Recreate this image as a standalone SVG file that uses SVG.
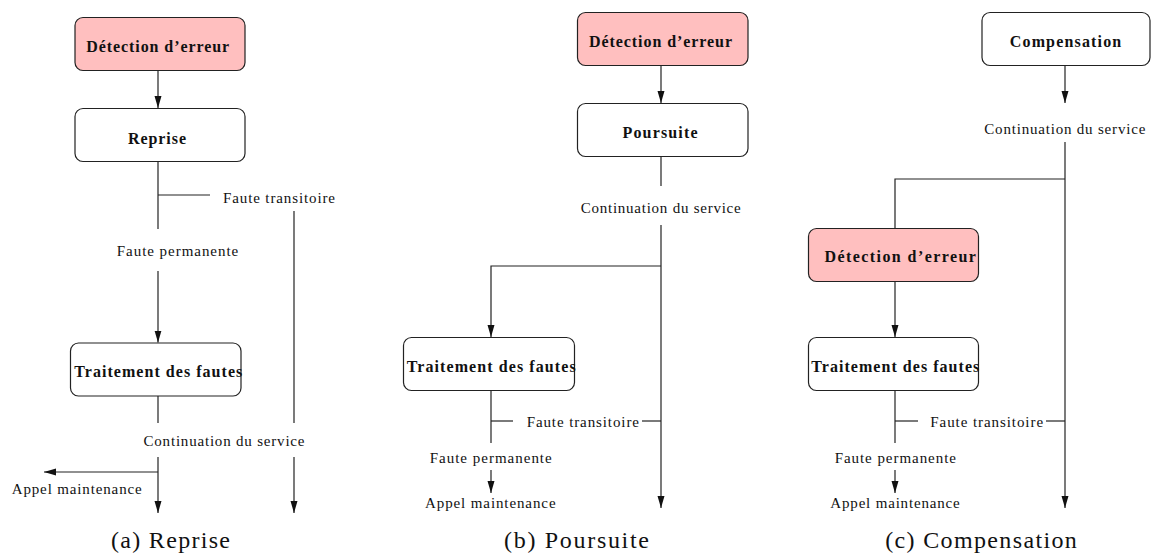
<svg xmlns="http://www.w3.org/2000/svg" width="1151" height="555" viewBox="0 0 1151 555">
  <style>
    .box { fill: #ffffff; stroke: #222; stroke-width: 1.2; }
    .err { fill: #ffbfbf; }
    .title { font-family: "Liberation Serif", "DejaVu Serif", serif; font-weight: bold; font-size: 16px; fill: #111; }
    .lbl { font-family: "Liberation Serif", "DejaVu Serif", serif; font-size: 15px; fill: #111; }
    .cap { font-family: "Liberation Serif", "DejaVu Serif", serif; font-size: 24px; fill: #111; }
    .ln { fill: none; stroke: #222; stroke-width: 1.2; }
    .arr { marker-end: url(#head); }
  </style>
  <defs>
    <marker id="head" markerUnits="userSpaceOnUse" markerWidth="12" markerHeight="8" refX="12" refY="3.5" orient="auto">
      <path d="M0,0 L12,3.5 L0,7 z" fill="#111"/>
    </marker>
  </defs>
  <rect width="1151" height="555" fill="#ffffff"/>

  <!-- (a) Reprise -->
  <g id="a-detection">
    <rect class="box err" x="75" y="17.5" width="170" height="53" rx="8"/>
    <text class="title" x="157.7" y="52.3" text-anchor="middle" textLength="143" lengthAdjust="spacing">Détection d’erreur</text>
  </g>
  <g id="a-reprise">
    <rect class="box" x="75" y="108.5" width="170" height="53" rx="8"/>
    <text class="title" x="157" y="143.5" text-anchor="middle" textLength="58" lengthAdjust="spacing">Reprise</text>
  </g>
  <g id="a-traitement">
    <rect class="box" x="70.5" y="343" width="170.5" height="53" rx="8"/>
    <text class="title" x="158.3" y="376.7" text-anchor="middle" textLength="168" lengthAdjust="spacing">Traitement des fautes</text>
  </g>

  <!-- (b) Poursuite -->
  <g id="b-detection">
    <rect class="box err" x="577.5" y="12.5" width="170.5" height="53" rx="8"/>
    <text class="title" x="660.5" y="47.3" text-anchor="middle" textLength="143" lengthAdjust="spacing">Détection d’erreur</text>
  </g>
  <g id="b-poursuite">
    <rect class="box" x="577.5" y="103.5" width="170.5" height="53" rx="8"/>
    <text class="title" x="660" y="138.3" text-anchor="middle" textLength="75" lengthAdjust="spacing">Poursuite</text>
  </g>
  <g id="b-traitement">
    <rect class="box" x="403.5" y="337.5" width="171" height="53" rx="8"/>
    <text class="title" x="491.2" y="372.3" text-anchor="middle" textLength="169" lengthAdjust="spacing">Traitement des fautes</text>
  </g>

  <!-- (c) Compensation -->
  <g id="c-compensation">
    <rect class="box" x="982" y="12.5" width="168" height="53" rx="8"/>
    <text class="title" x="1065.5" y="47.3" text-anchor="middle" textLength="111.5" lengthAdjust="spacing">Compensation</text>
  </g>
  <g id="c-detection">
    <rect class="box err" x="808.5" y="228.5" width="170" height="53" rx="8"/>
    <text class="title" x="900.2" y="261.7" text-anchor="middle" textLength="151.5" lengthAdjust="spacing">Détection d’erreur</text>
  </g>
  <g id="c-traitement">
    <rect class="box" x="808.5" y="337.5" width="170" height="53" rx="8"/>
    <text class="title" x="895.3" y="372.3" text-anchor="middle" textLength="168" lengthAdjust="spacing">Traitement des fautes</text>
  </g>

  <!-- connectors -->
  <g id="connectors">
    <!-- (a) -->
    <path class="ln arr" d="M158,71 V108"/>
    <path class="ln" d="M158,162 V229"/>
    <path class="ln" d="M158,195 H210"/>
    <path class="ln" d="M294,211 V423"/>
    <path class="ln arr" d="M294,457 V513"/>
    <path class="ln arr" d="M158,271 V342.5"/>
    <path class="ln" d="M158,396 V423"/>
    <path class="ln arr" d="M158,457 V513"/>
    <path class="ln arr" d="M158,472 H44"/>
    <!-- (b) -->
    <path class="ln arr" d="M661,66 V103"/>
    <path class="ln" d="M661,157 V186"/>
    <path class="ln arr" d="M661,225 V508"/>
    <path class="ln arr" d="M661,266 H491 V337"/>
    <path class="ln" d="M491,391 V443"/>
    <path class="ln" d="M491,421 H513"/>
    <path class="ln" d="M642,421 H661"/>
    <path class="ln arr" d="M491,470 V493"/>
    <!-- (c) -->
    <path class="ln arr" d="M1065,66 V103"/>
    <path class="ln arr" d="M1065,142 V508"/>
    <path class="ln" d="M1065,179 H895 V228.5"/>
    <path class="ln arr" d="M895,282 V337"/>
    <path class="ln" d="M895,391 V443"/>
    <path class="ln" d="M895,421 H918"/>
    <path class="ln" d="M1046,421 H1065"/>
    <path class="ln arr" d="M895,470 V493"/>
  </g>

  <!-- connector labels -->
  <g id="labels">
    <text class="lbl" x="279" y="203.3" text-anchor="middle" textLength="112" lengthAdjust="spacing">Faute transitoire</text>
    <text class="lbl" x="177.5" y="256" text-anchor="middle" textLength="121.5" lengthAdjust="spacing">Faute permanente</text>
    <text class="lbl" x="224" y="445.5" text-anchor="middle" textLength="161" lengthAdjust="spacing">Continuation du service</text>
    <text class="lbl" x="76.7" y="493.5" text-anchor="middle" textLength="130" lengthAdjust="spacing">Appel maintenance</text>

    <text class="lbl" x="660.7" y="213.3" text-anchor="middle" textLength="160" lengthAdjust="spacing">Continuation du service</text>
    <text class="lbl" x="582.8" y="426.5" text-anchor="middle" textLength="112.3" lengthAdjust="spacing">Faute transitoire</text>
    <text class="lbl" x="490.7" y="463.3" text-anchor="middle" textLength="122" lengthAdjust="spacing">Faute permanente</text>
    <text class="lbl" x="490.3" y="507.7" text-anchor="middle" textLength="130.5" lengthAdjust="spacing">Appel maintenance</text>

    <text class="lbl" x="1064.8" y="134.3" text-anchor="middle" textLength="161" lengthAdjust="spacing">Continuation du service</text>
    <text class="lbl" x="986.7" y="426.5" text-anchor="middle" textLength="112.7" lengthAdjust="spacing">Faute transitoire</text>
    <text class="lbl" x="895.3" y="463.3" text-anchor="middle" textLength="121.3" lengthAdjust="spacing">Faute permanente</text>
    <text class="lbl" x="895" y="507.7" text-anchor="middle" textLength="129.3" lengthAdjust="spacing">Appel maintenance</text>
  </g>

  <!-- captions -->
  <g id="captions">
    <text class="cap" x="170.5" y="548" text-anchor="middle" textLength="119" lengthAdjust="spacing">(a)  Reprise</text>
    <text class="cap" x="576.5" y="548" text-anchor="middle" textLength="145" lengthAdjust="spacing">(b)  Poursuite</text>
    <text class="cap" x="981" y="548" text-anchor="middle" textLength="191.7" lengthAdjust="spacing">(c)  Compensation</text>
  </g>
</svg>
